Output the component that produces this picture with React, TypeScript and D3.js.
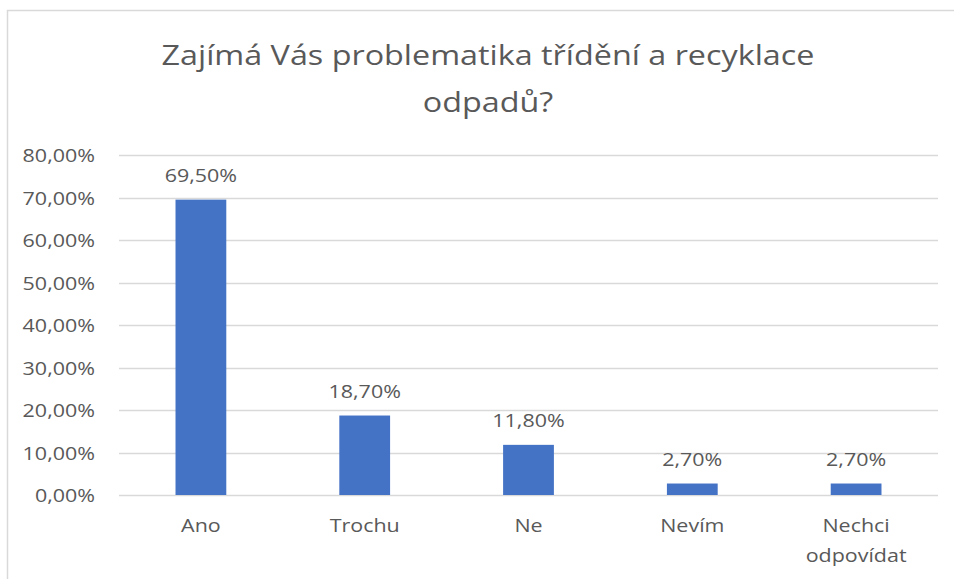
import React from "react";
import * as d3 from "d3";

const titleLines = ["Zajímá Vás problematika třídění a recyklace", "odpadů?"];
const categories = ["Ano", "Trochu", "Ne", "Nevím", "Nechci odpovídat"];
const categoryLines = [["Ano"], ["Trochu"], ["Ne"], ["Nevím"], ["Nechci", "odpovídat"]];
const values = [69.5, 18.7, 11.8, 2.7, 2.7];
const yTicks = [0, 10, 20, 30, 40, 50, 60, 70, 80];

const W = 954;
const H = 579;
const FONT = "'Open Sans', 'Noto Sans', sans-serif";
const TEXT = "#595959";
const SX = 1.13;
const fmt = (v: number) => v.toFixed(2).replace(".", ",") + "%";

function T({ x, y, anchor = "middle", size = 19, sx = SX, children }: any) {
  return (
    <text transform={`translate(${x},${y}) scale(${sx},1)`} textAnchor={anchor} fontSize={size} fill={TEXT}>
      {children}
    </text>
  );
}

export default function App() {
  const x = d3.scaleBand<string>().domain(categories).range([119, 938]).paddingInner(0.69).paddingOuter(0.345);
  const y = d3.scaleLinear().domain([0, 80]).range([495, 155]);
  return (
    <svg width={W} height={H} style={{ position: "absolute", left: 0, top: 0, background: "#fff" }} fontFamily={FONT}>
      <rect x={7.5} y={10.5} width={W} height={H} fill="#fff" stroke="#D9D9D9" strokeWidth={1.5} />
      {titleLines.map((t, i) => (
        <T key={i} x={488} y={65 + i * 47} size={28} sx={1.155}>
          {t}
        </T>
      ))}
      {yTicks.map((t) => (
        <g key={t}>
          <line x1={119} x2={938} y1={Math.round(y(t)) + 0.5} y2={Math.round(y(t)) + 0.5} stroke="#D9D9D9" strokeWidth={1.3} />
          <T x={95} y={y(t) + 7} anchor="end">
            {fmt(t)}
          </T>
        </g>
      ))}
      {categories.map((c, i) => (
        <g key={c}>
          <rect x={x(c)} y={y(values[i])} width={x.bandwidth()} height={y(0) - y(values[i])} fill="#4472C4" />
          <T x={(x(c) as number) + x.bandwidth() / 2} y={y(values[i]) - 18}>
            {fmt(values[i])}
          </T>
          {categoryLines[i].map((l, j) => (
            <T key={j} x={(x(c) as number) + x.bandwidth() / 2} y={532 + j * 30}>
              {l}
            </T>
          ))}
        </g>
      ))}
    </svg>
  );
}
